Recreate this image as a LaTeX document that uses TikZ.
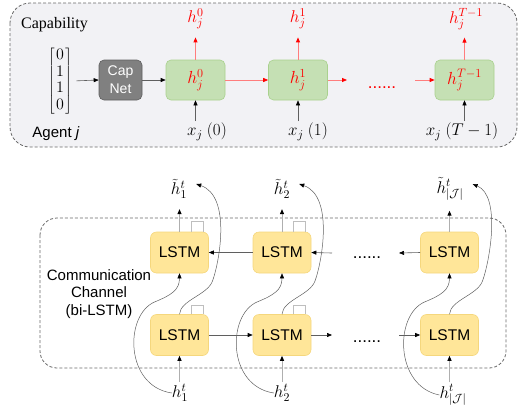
\RequirePackage{fix-cm}
\documentclass[tikz,border=0pt]{standalone}
\usepackage{fontspec}
\setmainfont{Liberation Serif}
\setsansfont{Liberation Sans}
\usetikzlibrary{arrows.meta}

\definecolor{panelbg}{RGB}{242,242,245}
\definecolor{dashgray}{RGB}{105,105,105}
\definecolor{cellgreen}{RGB}{197,224,180}
\definecolor{cellgreenline}{RGB}{169,209,142}
\definecolor{capgray}{RGB}{128,128,128}
\definecolor{capline}{RGB}{95,95,95}
\definecolor{lstmfill}{RGB}{255,230,153}
\definecolor{lstmline}{RGB}{245,215,125}
\definecolor{hred}{RGB}{255,0,0}
\definecolor{redline}{RGB}{255,125,125}
\definecolor{lightline}{RGB}{175,175,175}
\definecolor{curvegray}{RGB}{95,95,95}
\definecolor{tabgray}{RGB}{190,190,190}

\newcommand{\sfsz}[1]{\sffamily\fontsize{#1}{#1}\selectfont}

\begin{document}
\begin{tikzpicture}[x=1pt,y=-1pt,
  panel/.style={draw=dashgray, dash pattern=on 3pt off 2pt, line width=0.8pt},
  cell/.style={draw=cellgreenline, fill=cellgreen, rounded corners=5pt,
    minimum width=59pt, minimum height=40pt, line width=0.6pt, text=hred,
    font=\fontsize{17.5}{20}\selectfont},
  capbox/.style={draw=capline, fill=capgray, rounded corners=5pt,
    minimum width=43pt, minimum height=40pt, line width=0.6pt, text=white,
    align=center, font=\sffamily\fontsize{14}{18}\selectfont},
  lstm/.style={draw=lstmline, fill=lstmfill, rounded corners=6pt,
    minimum width=58pt, minimum height=41pt, line width=0.6pt,
    font=\sfsz{15.5}},
  mathlbl/.style={inner sep=0pt, font=\fontsize{17}{20}\selectfont},
  redlbl/.style={mathlbl, text=hred},
  garrow/.style={draw=capline, line width=0.6pt,
    -{Triangle[length=5pt,width=4pt,color=black,fill=black]}},
  rarrow/.style={draw=redline, line width=0.8pt,
    -{Triangle[length=5pt,width=4pt,color=hred,fill=hred]}},
  farrow/.style={draw=lightline, line width=1pt,
    -{Triangle[length=5pt,width=4pt,color=black,fill=black]}},
  carrow/.style={draw=curvegray, line width=0.5pt,
    -{Triangle[length=5pt,width=4pt,color=black,fill=black]}},
  tabline/.style={draw=tabgray, line width=0.6pt}
]
\useasboundingbox (0,0) rectangle (519,410);

% ---------------- capability encoder ----------------
\draw[panel, fill=panelbg, rounded corners=20pt] (10,3) rectangle (517,147);
\node[anchor=west, inner sep=0pt, font=\fontsize{16}{19}\selectfont] (captitle) at (21,25) {Capability};

\node[inner sep=0pt, font=\fontsize{16}{16.5}\selectfont] (vec) at (60,81)
  {$\arraycolsep=1.5pt\left[\begin{array}{c}0\\1\\1\\0\end{array}\right]$};
\node[inner sep=0pt, font=\sfsz{15}] (agent) at (56,134) {Agent \textit{j}};

\node[capbox] (capnet) at (120.5,80) {Cap\\Net};
\node[cell] (h0) at (195.5,80) {$h_j^0$};
\node[cell] (h1) at (298,80) {$h_j^1$};
\node[cell] (hT) at (464.5,80) {$h_j^{T-1}$};

\node[redlbl] (o0) at (195.5,19) {$h_j^0$};
\node[redlbl] (o1) at (298,19) {$h_j^1$};
\node[redlbl] (oT) at (466,19) {$h_j^{T-1}$};

\node[mathlbl] (x0) at (207,132) {$x_j\ (0)$};
\node[mathlbl] (x1) at (308,132) {$x_j\ (1)$};
\node[mathlbl] (xT) at (462,132) {$x_j\ (T-1)$};

\coordinate (rdotsL) at (347,80);
\coordinate (rdotsR) at (415,80);
\node[anchor=base, inner sep=0pt, text=hred, font=\sfsz{17}] (rdots) at (382,88) {......};

\draw[garrow, shorten <=4pt] (vec.east) -- (capnet.west);
\draw[garrow] (capnet.east) -- (h0.west);
\draw[rarrow] (h0.east) -- (h1.west);
\draw[rarrow] (h1.east) -- (rdotsL);
\draw[rarrow] (rdotsR) -- (hT.west);

\draw[rarrow, shorten >=8pt] (h0.north) -- (o0.south -| h0);
\draw[rarrow, shorten >=8pt] (h1.north) -- (o1.south -| h1);
\draw[rarrow, shorten >=8pt] (hT.north) -- (oT.south -| hT);

\draw[garrow, shorten <=2pt] (x0.north -| h0) -- (h0.south);
\draw[garrow, shorten <=2pt] (x1.north -| h1) -- (h1.south);
\draw[garrow, shorten <=2pt] (xT.north -| hT) -- (hT.south);

% ---------------- communication channel ----------------
\draw[panel, rounded corners=17pt] (40,218) rectangle (506,368);
\node[align=center, inner sep=0pt, font=\sffamily\fontsize{15}{17.5}\selectfont] (comm) at (99,294)
  {Communication\\Channel\\(bi-LSTM)};

\foreach \i/\X in {1/179.5, 2/282, 3/449.5} {
  \node[lstm] (Lt\i) at (\X,252.5) {LSTM};
  \node[lstm] (Lb\i) at (\X,335) {LSTM};
}

% small open tabs on the first two cells
\foreach \i in {1,2} {
  \draw[tabline] ([xshift=11.5pt]Lt\i.north) -- ++(0,-10) -- ++(12,0) -- ++(0,10);
  \draw[tabline] ([xshift=11.5pt]Lb\i.north) -- ++(0,-9) -- ++(12,0) -- ++(0,9);
}

\node[mathlbl] (th1) at (179,189) {$\tilde{h}_1^t$};
\node[mathlbl] (th2) at (282,189) {$\tilde{h}_2^t$};
\node[mathlbl] (th3) at (450,189) {$\tilde{h}_{|\mathcal{J}|}^t$};
\node[mathlbl] (hh1) at (180,393) {$h_1^t$};
\node[mathlbl] (hh2) at (282,393) {$h_2^t$};
\node[mathlbl] (hh3) at (453,395) {$h_{|\mathcal{J}|}^t$};

\coordinate (tdL) at (332,253);
\coordinate (tdR) at (399,253);
\coordinate (bdL) at (332,335);
\coordinate (bdR) at (399,335);
\node[anchor=base, inner sep=0pt, font=\sfsz{17}] (tdots) at (367,258) {......};
\node[anchor=base, inner sep=0pt, font=\sfsz{17}] (bdots) at (367,342) {......};

% backward pass (top row)
\draw[garrow] (Lt2.west) -- (Lt1.east);
\draw[garrow] (tdL) -- (Lt2.east);
\draw[garrow] (Lt3.west) -- (tdR);
% forward pass (bottom row)
\draw[garrow] (Lb1.east) -- (Lb2.west);
\draw[garrow] (Lb2.east) -- (bdL);
\draw[garrow] (bdR) -- (Lb3.west);

\foreach \i/\X in {1/179.5, 2/282, 3/449.5} {
  \draw[farrow, shorten <=2pt] (hh\i.north -| Lb\i) -- (Lb\i.south);
  \draw[farrow, shorten >=10pt] (Lt\i.north) -- (th\i.south -| Lt\i);
  % input routed to the backward cell
  \draw[carrow] (hh\i.west) .. controls (\X-55,386) and (\X-55,315) .. (\X-25,302)
    .. controls (\X-8,295) and (\X,290) .. (Lt\i.south);
  % forward cell output routed up to the merged state
  \draw[carrow] (Lb\i.north) .. controls (\X+1,300) and (\X+28,295) .. (\X+33,281)
    .. controls (\X+40,262) and (\X+52,196) .. ([shift={(9,-5)}]th\i.east);
}
\end{tikzpicture}
\end{document}
